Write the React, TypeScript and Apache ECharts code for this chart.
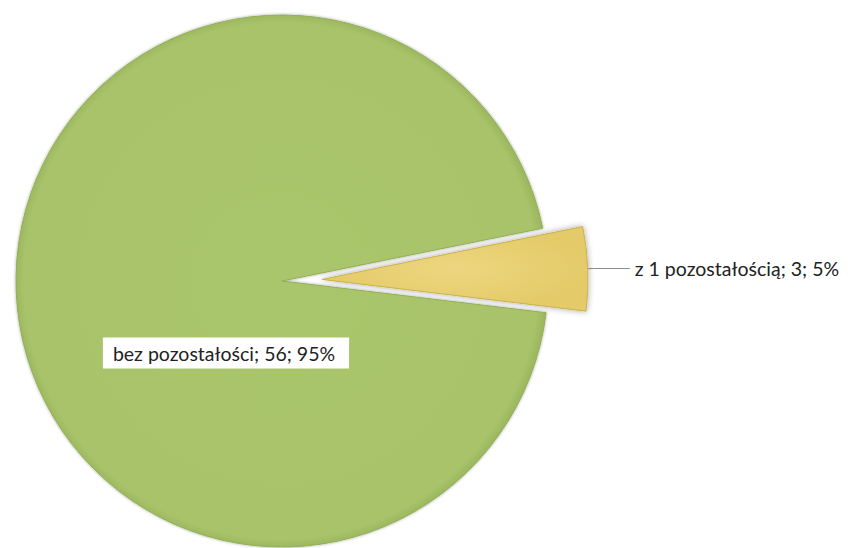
import React, { useEffect, useRef } from "react";
import * as echarts from "echarts";

const categories = ["z 1 pozostałością", "bez pozostałości"];
const values = [3, 56];

export default function App() {
  const ref = useRef<HTMLDivElement>(null);
  useEffect(() => {
    if (!ref.current) return;
    const chart = echarts.init(ref.current, null, { renderer: "svg" });
    chart.setOption({
      animation: false,
      backgroundColor: "#ffffff",
      series: [
        {
          type: "pie",
          center: [282, 281],
          radius: 266,
          startAngle: 11.45,
          clockwise: true,
          percentPrecision: 0,
          selectedMode: "single",
          selectedOffset: 40,
          avoidLabelOverlap: false,
          label: {
            formatter: "{b}; {c}; {d}%",
            fontFamily: "Lato",
            fontSize: 19.5,
            color: "#222222",
            distanceToLabelLine: 5,
          },
          labelLine: {
            show: true,
            lineStyle: { color: "#8c8c8c", width: 1 },
            length: 6,
            length2: 36,
          },
          labelLayout: (params: any) => {
            if (params.dataIndex === 1) {
              return { x: 226, y: 353, align: "center", verticalAlign: "middle" };
            }
            return undefined;
          },
          data: categories.map((name, i) => ({
            name,
            value: values[i],
            selected: i === 0,
            itemStyle: {
              color: {
                type: "radial",
                x: 0.5,
                y: 0.5,
                r: 0.5,
                colorStops:
                  i === 0
                    ? [
                        { offset: 0, color: "#EDD680" },
                        { offset: 1, color: "#E4CA68" },
                      ]
                    : [
                        { offset: 0, color: "#AAC66C" },
                        { offset: 0.97, color: "#A8C36A" },
                        { offset: 1, color: "#9DB95F" },
                      ],
              },
              borderColor: i === 0 ? "#C9B24E" : "#93AF57",
              borderWidth: 1,
              shadowBlur: i === 0 ? 6 : 3,
              shadowColor: "rgba(0,0,0,0.35)",
            },
            label:
              i === 1
                ? {
                    position: "inside",
                    backgroundColor: "#ffffff",
                    padding: [6, 14, 5, 10],
                  }
                : { position: "outside" },
            labelLine: i === 1 ? { show: false } : { show: true },
          })),
          emphasis: { disabled: true },
        },
      ],
    });
    return () => chart.dispose();
  }, []);
  return (
    <div
      ref={ref}
      style={{ position: "fixed", left: 0, top: 0, width: 859, height: 548 }}
    />
  );
}
